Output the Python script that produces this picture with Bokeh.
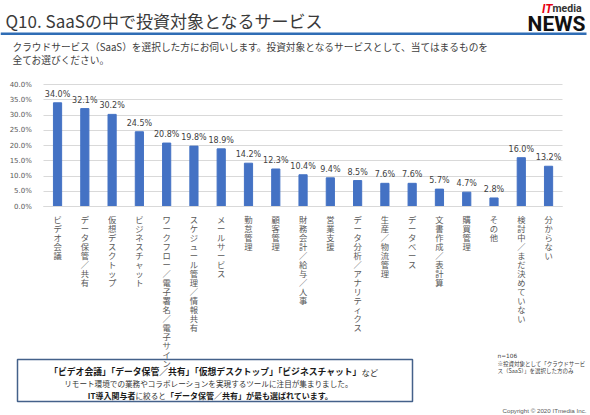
from bokeh.plotting import figure
from bokeh.models import (Range1d, Label, BoxAnnotation, SingleIntervalTicker,
                          FixedTicker, PrintfTickFormatter, ColumnDataSource)
from bokeh.core.properties import value
from bokeh.embed import file_html
from bokeh.resources import INLINE

# --- data -------------------------------------------------------------
categories = [
    "ビデオ会議", "データ保管／共有", "仮想デスクトップ", "ビジネスチャット",
    "ワークフロー／電子署名／電子サイン", "スケジュール管理／情報共有", "メールサービス",
    "勤怠管理", "顧客管理", "財務会計／給与／人事", "営業支援",
    "データ分析／アナリティクス", "生産／物流管理", "データベース", "文書作成／表計算",
    "購買管理", "その他", "検討中／まだ決めていない", "分からない",
]
values = [34.0, 32.1, 30.2, 24.5, 20.8, 19.8, 18.9, 14.2, 12.3, 10.4,
          9.4, 8.5, 7.6, 7.6, 5.7, 4.7, 2.8, 16.0, 13.2]
value_labels = [f"{v:.1f}%" for v in values]
y_max = 40

JP = "Noto Sans CJK JP"
NUM = "DejaVu Sans"
LOGO = "Roboto"
BLUE = "#4472C4"

# --- page geometry ------------------------------------------------------
W, H = 590, 415
FL, FR, FT, FB = 43.4, 561.7, 84, 206   # chart area (0..40 %) on the page
n = len(categories)
step = (FR - FL) / n                      # pixels per category band
ppu = (FB - FT) / y_max                   # pixels per percent

# the frame covers the whole page; ranges are padded so that the
# category bands and the 0..40 % span land in the chart area
p = figure(width=W, height=H, title=None,
           x_range=Range1d(-FL / step, n + (W - FR) / step),
           y_range=Range1d(-(H - FB) / ppu, y_max + FT / ppu),
           min_border=0, output_backend="svg", toolbar_location=None)
p.outline_line_color = None
p.background_fill_color = "white"
p.border_fill_color = "white"

centers = [i + 0.5 for i in range(n)]
src = ColumnDataSource(dict(x=centers, val=values, lab=value_labels,
                            name=["\n".join(c) for c in categories]))
p.vbar(x="x", top="val", width=0.3, color=BLUE, source=src)
p.text(x="x", y="val", text="lab", source=src, text_align="center",
       text_baseline="bottom", y_offset=-4, text_font_size="8px",
       text_color="#404040", text_font=value(NUM))

# category names, written top-to-bottom under the baseline
p.text(x="x", y=0, text="name", source=src, text_align="center",
       text_baseline="top", y_offset=6, text_font_size="8.3px",
       text_line_height=0.75, text_color="#595959", text_font=value(JP))

# y axis: 0.0% .. 40.0%, pinned to the left edge of the chart area
yt = SingleIntervalTicker(interval=5)
p.yaxis.ticker = yt
p.yaxis.fixed_location = 0
p.yaxis.bounds = (0, y_max)
p.yaxis.formatter = PrintfTickFormatter(format="%.1f%%")
p.yaxis.axis_line_color = None
p.yaxis.major_tick_line_color = None
p.yaxis.minor_tick_line_color = None
p.yaxis.major_label_text_font = NUM
p.yaxis.major_label_text_font_size = "7px"
p.yaxis.major_label_text_color = "#595959"
p.yaxis.major_label_standoff = 6
p.ygrid.ticker = yt
p.ygrid.bounds = (0, y_max)
p.ygrid.cross_bounds = (0, n)
p.ygrid.grid_line_color = "#D9D9D9"
p.xgrid.grid_line_color = None

# x axis: only the baseline
p.xaxis.ticker = FixedTicker(ticks=[])
p.xaxis.fixed_location = 0
p.xaxis.bounds = (0, n)
p.xaxis.axis_line_color = "#D9D9D9"
p.xaxis.major_tick_line_color = None
p.xaxis.minor_tick_line_color = None


def put(text, X, Y, size, color="#404040", bold=False, align="left",
        font=JP, italic=False):
    """Place a text centred vertically on page position (X, Y), from the top-left."""
    style = "bold" if bold else "normal"
    if italic:
        style = "bold italic" if bold else "italic"
    p.add_layout(Label(x=X, y=H - Y, x_units="screen", y_units="screen",
                       text=text, text_font=font, text_font_size=f"{size}px",
                       text_color=color, text_align=align, text_baseline="middle",
                       text_font_style=style))


def box(left, top, right, bottom, fill=None, line=None, lw=1.0):
    p.add_layout(BoxAnnotation(
        left=left, right=right, top=H - top, bottom=H - bottom,
        left_units="screen", right_units="screen",
        top_units="screen", bottom_units="screen",
        fill_color=fill or "white", fill_alpha=1.0 if fill else 0.0,
        line_color=line or "white", line_alpha=1.0 if line else 0.0,
        line_width=lw))


# header
put("Q10. SaaSの中で投資対象となるサービス", 5, 19.5, 17, color="#3A3A3A")
box(0, 32, 586, 34.5, fill="#2F6DB5")
put("IT", 552, 8, 12, color="#E60012", bold=True, italic=True,
    font=LOGO, align="right")
put("media", 552, 8, 10.5, color="#333333", bold=True, font=LOGO)
put("NEWS", 585, 23, 21, color="#111111", bold=True, align="right", font=LOGO)

put("クラウドサービス（SaaS）を選択した方にお伺いします。投資対象となるサービスとして、当てはまるものを",
    12, 46, 9.7)
put("全てお選びください。", 12, 59, 9.7)

# summary box
box(17, 359, 412, 401, line="#44618A", lw=1.5)
f1 = 8.8
split1 = 361
put("「ビデオ会議」「データ保管／共有」「仮想デスクトップ」「ビジネスチャット」",
    split1, 371, f1, color="#1A1A1A", bold=True, align="right")
put("など", split1, 371, 8.4, color="#333333")
put("リモート環境での業務やコラボレーションを実現するツールに注目が集まりました。",
    208, 383, 7.6, color="#333333", align="center")
f3 = 7.6
s3a, s3b = 135, 135 + 4 * f3
put("IT導入関与者", s3a, 395, 8.0, color="#1A1A1A", bold=True, align="right")
put("に絞ると", s3a, 395, f3, color="#333333")
put("「データ保管／共有」が最も選ばれています。", s3b, 395, 8.0,
    color="#1A1A1A", bold=True)

# footnotes
put("n=106", 497, 355, 5.8, color="#404040", font=NUM)
put("※投資対象として「クラウドサービ", 497, 363, 5.5, color="#404040")
put("ス（SaaS）」を選択した方のみ", 497, 370.5, 5.5, color="#404040")
put("Copyright © 2020 ITmedia Inc.", 586, 409.5, 6.2, color="#595959",
    font="Liberation Sans", align="right")

open("out.html", "w").write(file_html(p, INLINE))
